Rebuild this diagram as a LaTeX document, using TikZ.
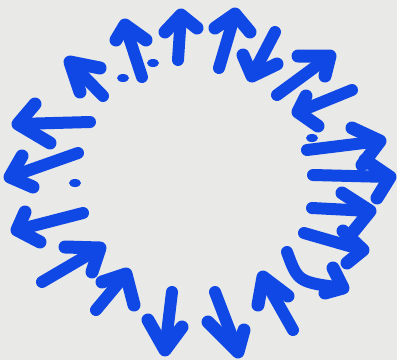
\documentclass[tikz,border=0pt]{standalone}
\usepackage{xcolor}
\usepackage{tikz}
\usetikzlibrary{calc}
\definecolor{markerblue}{RGB}{16,72,230}
\definecolor{paper}{RGB}{233,233,231}

\begin{document}
\begin{tikzpicture}[x=1pt, y=-1pt,
  marker/.style={draw=markerblue, line width=12pt, line cap=round, line join=round},
  blot/.style={fill=markerblue}]
  % paper
  \fill[paper] (0,0) rectangle (397,360);
  \useasboundingbox (0,0) rectangle (397,360);
  % straight arrows, clockwise from top left: tail / tip / two wings
  \foreach \tx/\ty/\hx/\hy/\ax/\ay/\bx/\by in {
      103/96/70/62/100/68/80/92,
      142/77/125/25/116/40/146/40,
      178/60/181/15/165/32/197/28,
      219/68/235/14/215/28/250/32,
      275/32/252/76/243/55/277/64,
      277/95/330/56/298/56/325/76,
      352/90/298/112/306/96/318/126,
      307/150/380/141/352/128/362/165,
      313/175/390/177/365/160/377/198,
      312/208/370/211/342/193/353/232,
      304/233/363/250/343/231/347/263,
      293/330/263/277/258/305/288/296,
      215/292/238/352/208/322/244/330,
      172/292/165/350/148/320/182/327,
      96/310/126/274/102/282/134/305,
      42/282/100/248/65/247/92/272,
      83/213/17/230/25/212/40/242,
      78/153/10/177/22/156/33/187,
      90/122/18/124/35/104/50/143} {
    \draw[marker] (\tx,\ty) -- (\hx,\hy);
    \draw[marker, line width=13pt] (\ax,\ay) -- (\hx,\hy) -- (\bx,\by);
    % ink pooled inside the head
    \fill[blot] (\hx,\hy) -- ($(\hx,\hy)!0.6!(\ax,\ay)$)
      -- ($(\hx,\hy)!0.6!(\bx,\by)$) -- cycle;
  }
  % bent arrow, lower right
  \draw[marker] (287,252) .. controls (298,282) .. (343,288);
  \draw[marker, line width=13pt] (333,268) -- (343,288) -- (325,293);
  \fill[blot] (343,288) -- (337,276) -- (332,291) -- cycle;
  % stray dots
  \foreach \x/\y in {123/78, 153/63, 312/138, 75/183}
    \fill[markerblue] (\x,\y) ellipse (6pt and 4pt);
\end{tikzpicture}
\end{document}
